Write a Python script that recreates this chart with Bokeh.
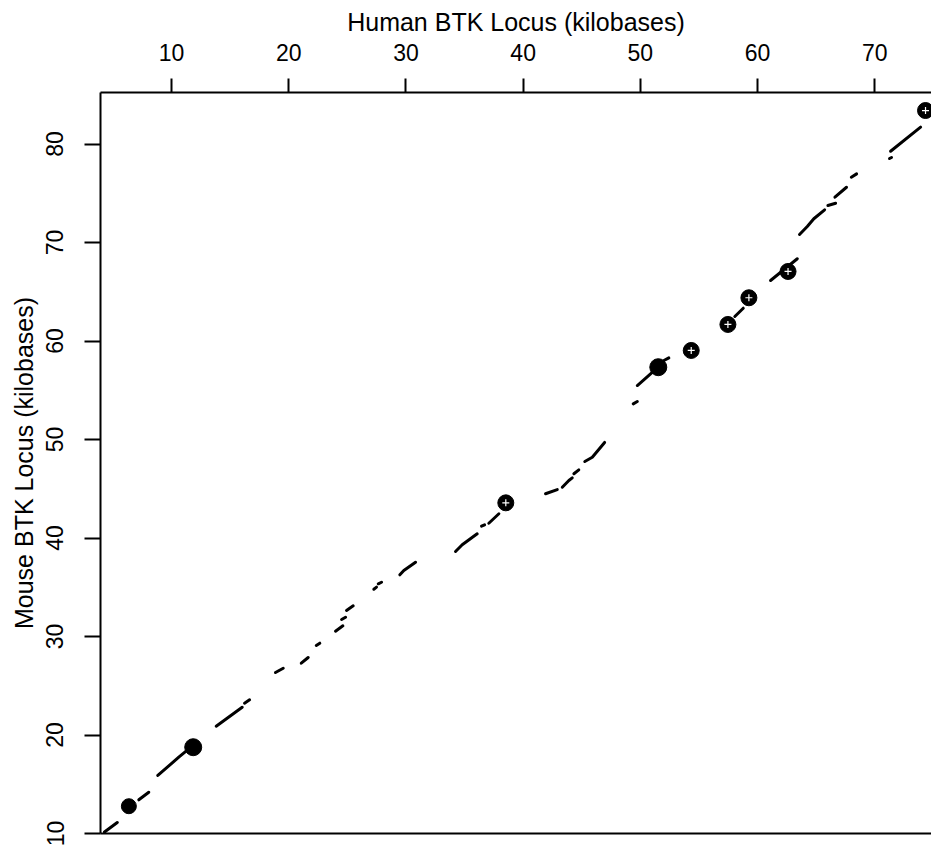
from bokeh.plotting import figure
from bokeh.models import Range1d, FixedTicker, LinearAxis
from bokeh.embed import file_html
from bokeh.resources import INLINE

# ---- data (kilobases) ----
x_ticks = [10, 20, 30, 40, 50, 60, 70]
y_ticks = [10, 20, 30, 40, 50, 60, 70, 80]

# aligned segments: human position (x) vs mouse position (y)
seg_x = [
    [4.28, 5.37],
    [7.21, 8.06],
    [8.83, 10.62, 11.19],
    [13.81, 16.03],
    [16.23, 16.66],
    [18.87, 19.53],
    [21.07, 21.66],
    [22.35, 22.65],
    [23.99, 24.62],
    [24.51, 24.85],
    [24.93, 25.50],
    [27.26, 27.49],
    [27.64, 27.92],
    [29.48, 29.82, 30.82],
    [34.23, 34.80, 36.08],
    [36.45, 36.71],
    [37.07, 37.93],
    [41.91, 42.91],
    [43.34, 43.90, 44.19],
    [44.33, 44.75],
    [45.26, 45.90, 46.95],
    [49.39, 49.74],
    [49.74, 50.87, 51.30],
    [52.01, 52.43],
    [58.06, 58.78],
    [61.11, 63.39],
    [63.58, 64.24, 64.80, 65.72],
    [66.00, 66.66],
    [66.60, 67.59],
    [68.00, 68.45],
    [71.26, 71.43],
    [71.35, 73.91],
]
seg_y = [
    [10.15, 11.12],
    [13.42, 14.19],
    [15.89, 17.75, 18.32],
    [20.89, 22.82],
    [23.23, 23.57],
    [26.35, 26.78],
    [27.29, 27.87],
    [29.09, 29.32],
    [30.54, 31.09],
    [31.73, 31.96],
    [32.64, 33.12],
    [34.80, 35.01],
    [35.35, 35.51],
    [36.26, 36.70, 37.54],
    [38.63, 39.31, 40.43],
    [41.20, 41.34],
    [41.50, 42.46],
    [44.49, 44.92],
    [45.16, 45.84, 46.11],
    [46.52, 46.92],
    [47.77, 48.20, 49.70],
    [53.62, 53.86],
    [55.48, 56.67, 57.11],
    [58.02, 58.29],
    [62.49, 63.33],
    [66.14, 68.35],
    [70.81, 71.62, 72.41, 73.32],
    [73.76, 73.99],
    [74.60, 75.61],
    [76.63, 76.97],
    [78.53, 78.63],
    [79.27, 81.71],
]

# solid (filled) exon markers
solid_x = [6.36, 11.85, 51.53]
solid_y = [12.77, 18.76, 57.34]
solid_size = [15, 17, 17]

# crossed-circle exon markers
cross_x = [38.52, 54.34, 57.47, 59.26, 62.60, 74.33]
cross_y = [43.57, 59.04, 61.68, 64.39, 67.06, 83.40]

FONT = "Liberation Sans"

p = figure(width=931, height=847,
           x_range=Range1d(3.94, 74.84), y_range=Range1d(10, 85.23),
           x_axis_location="above",
           output_backend="svg", toolbar_location=None,
           min_border_left=100, min_border_right=0,
           min_border_top=92, min_border_bottom=14)
p.outline_line_color = None
p.xgrid.visible = False
p.ygrid.visible = False
p.background_fill_color = "white"
p.border_fill_color = "white"

p.multi_line(seg_x, seg_y, line_color="black", line_width=3, line_cap="round")
p.scatter(solid_x, solid_y, size=solid_size, marker="circle",
          fill_color="black", line_color="black")
p.scatter(cross_x, cross_y, size=16, marker="circle",
          fill_color="black", line_color="black")
p.scatter(cross_x, cross_y, size=7, marker="cross",
          line_color="white", line_width=1.2)

xa = p.xaxis[0]
xa.ticker = FixedTicker(ticks=x_ticks)
xa.axis_label = "Human BTK Locus (kilobases)"
xa.major_tick_out = 14
xa.major_label_standoff = 18
xa.axis_label_standoff = 5

ya = p.yaxis[0]
ya.ticker = FixedTicker(ticks=y_ticks)
ya.axis_label = "Mouse BTK Locus (kilobases)"
ya.major_tick_out = 16
ya.major_label_standoff = 21
ya.axis_label_standoff = 6
ya.major_label_orientation = "vertical"

for ax in (xa, ya):
    ax.minor_tick_line_color = None
    ax.major_tick_in = 0
    ax.axis_line_width = 2
    ax.axis_line_color = "black"
    ax.major_tick_line_width = 2
    ax.major_tick_line_color = "black"
    ax.major_label_text_font = FONT
    ax.major_label_text_font_size = "23px"
    ax.major_label_text_color = "black"
    ax.axis_label_text_font = FONT
    ax.axis_label_text_font_size = "25px"
    ax.axis_label_text_font_style = "normal"
    ax.axis_label_text_color = "black"

# bottom frame line
bottom = LinearAxis(ticker=FixedTicker(ticks=[]), axis_line_width=2,
                    axis_line_color="black", major_tick_out=0, major_tick_in=0,
                    minor_tick_line_color=None, major_label_text_font_size="0px")
p.add_layout(bottom, "below")

open("out.html", "w").write(file_html(p, INLINE))
